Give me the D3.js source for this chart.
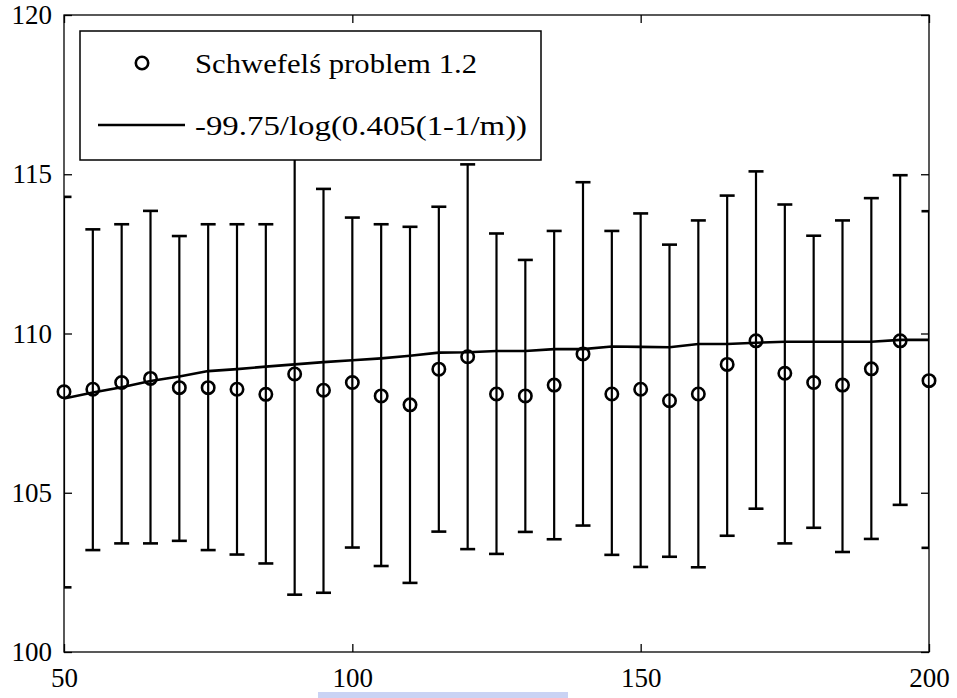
<!DOCTYPE html>
<html>
<head>
<meta charset="utf-8">
<script src="https://cdn.jsdelivr.net/npm/d3@7"></script>
</head>
<body style="margin:0">
<div id="chart"></div>
<script>
// m values (x axis)
const mValues = d3.range(50, 201, 5);
// mean of the runs
const meanValues = [108.17, 108.25, 108.46, 108.59, 108.30, 108.30, 108.25, 108.09, 108.73, 108.22,
  108.46, 108.04, 107.76, 108.88, 109.27, 108.10, 108.04, 108.38, 109.36, 108.10,
  108.25, 107.89, 108.10, 109.03, 109.77, 108.75, 108.46, 108.38, 108.89, 109.77, 108.52];
const upperValues = [114.29, 113.27, 113.43, 113.85, 113.06, 113.43, 113.43, 113.43, 115.66, 114.54,
  113.64, 113.43, 113.35, 113.98, 115.31, 113.14, 112.31, 113.22, 114.75, 113.22,
  113.77, 112.79, 113.55, 114.33, 115.09, 114.05, 113.07, 113.55, 114.25, 114.97, 113.84];
const lowerValues = [102.03, 103.20, 103.41, 103.41, 103.49, 103.20, 103.06, 102.78, 101.80, 101.86,
  103.28, 102.70, 102.17, 103.78, 103.23, 103.08, 103.77, 103.54, 103.97, 103.05,
  102.67, 102.99, 102.66, 103.65, 104.50, 103.41, 103.90, 103.14, 103.55, 104.62, 103.27];
// fitted curve -99.75/log(0.405(1-1/m))
const fitValues = [107.96, 108.15, 108.31, 108.51, 108.65, 108.82, 108.88, 108.96, 109.03, 109.10,
  109.16, 109.22, 109.30, 109.40, 109.41, 109.45, 109.45, 109.51, 109.51, 109.59,
  109.58, 109.57, 109.67, 109.67, 109.71, 109.74, 109.74, 109.74, 109.74, 109.80, 109.80];
const xTicks = [50, 100, 150, 200];
const yTicks = [100, 105, 110, 115, 120];
const seriesLabels = ['Schwefel\u015B problem 1.2', '-99.75/log(0.405(1-1/m))'];

const width = 957, height = 698;
const plotLeft = 64, plotRight = 929, plotTop = 15, plotBottom = 652;
const serif = 'Liberation Serif';

const xScale = d3.scaleLinear().domain([50, 200]).range([plotLeft, plotRight]);
const yScale = d3.scaleLinear().domain([100, 120]).range([plotBottom, plotTop]);

const svg = d3.select('#chart').append('svg')
  .attr('width', width).attr('height', height)
  .attr('font-family', serif)
  .style('font-family', serif);

svg.append('clipPath').attr('id', 'plot-clip')
  .append('rect')
  .attr('x', plotLeft).attr('y', plotTop)
  .attr('width', plotRight - plotLeft).attr('height', plotBottom - plotTop);

// faint blue artifact under the x axis
svg.append('rect')
  .attr('x', 318).attr('y', 692).attr('width', 250).attr('height', 6)
  .attr('fill', '#b4c0f0').attr('opacity', 0.7);

const data = mValues.map((m, i) => ({
  m: m, mean: meanValues[i], hi: upperValues[i], lo: lowerValues[i], fit: fitValues[i]
}));

const plot = svg.append('g').attr('clip-path', 'url(#plot-clip)');

// error bars
const capHalf = 7.5;
const bars = plot.selectAll('g.err').data(data).join('g').attr('class', 'err');
bars.append('line')
  .attr('x1', d => xScale(d.m)).attr('x2', d => xScale(d.m))
  .attr('y1', d => yScale(d.hi)).attr('y2', d => yScale(d.lo))
  .attr('stroke', '#000').attr('stroke-width', 2.2);
bars.append('line')
  .attr('x1', d => xScale(d.m) - capHalf).attr('x2', d => xScale(d.m) + capHalf)
  .attr('y1', d => yScale(d.hi)).attr('y2', d => yScale(d.hi))
  .attr('stroke', '#000').attr('stroke-width', 2.6);
bars.append('line')
  .attr('x1', d => xScale(d.m) - capHalf).attr('x2', d => xScale(d.m) + capHalf)
  .attr('y1', d => yScale(d.lo)).attr('y2', d => yScale(d.lo))
  .attr('stroke', '#000').attr('stroke-width', 2.6);

// fitted line
plot.append('path')
  .datum(data)
  .attr('fill', 'none')
  .attr('stroke', '#000')
  .attr('stroke-width', 2.6)
  .attr('d', d3.line().x(d => xScale(d.m)).y(d => yScale(d.fit)));

// markers (not clipped)
svg.selectAll('circle.pt').data(data).join('circle')
  .attr('class', 'pt')
  .attr('cx', d => xScale(d.m)).attr('cy', d => yScale(d.mean))
  .attr('r', 6.2)
  .attr('fill', 'none').attr('stroke', '#000').attr('stroke-width', 2.6);

// axes box with ticks on all sides
const tickLen = 8;
svg.append('rect')
  .attr('x', plotLeft).attr('y', plotTop)
  .attr('width', plotRight - plotLeft).attr('height', plotBottom - plotTop)
  .attr('fill', 'none').attr('stroke', '#000').attr('stroke-width', 1.3);

function styleLabels(g) {
  g.attr('font-family', serif).attr('font-size', 27);
  g.selectAll('text')
    .attr('font-family', serif)
    .style('font-family', serif)
    .attr('font-size', 27)
    .attr('fill', '#000');
}

svg.append('g').attr('transform', `translate(0,${plotBottom})`)
  .call(d3.axisBottom(xScale).tickValues(xTicks).tickSizeInner(-tickLen).tickSizeOuter(0).tickPadding(16))
  .call(g => g.select('.domain').remove())
  .call(styleLabels);
svg.append('g').attr('transform', `translate(0,${plotTop})`)
  .call(d3.axisTop(xScale).tickValues(xTicks).tickSizeInner(-tickLen).tickSizeOuter(0).tickFormat(''))
  .call(g => g.select('.domain').remove());
svg.append('g').attr('transform', `translate(${plotLeft},0)`)
  .call(d3.axisLeft(yScale).tickValues(yTicks).tickSizeInner(-tickLen).tickSizeOuter(0).tickPadding(12))
  .call(g => g.select('.domain').remove())
  .call(styleLabels);
svg.append('g').attr('transform', `translate(${plotRight},0)`)
  .call(d3.axisRight(yScale).tickValues(yTicks).tickSizeInner(-tickLen).tickSizeOuter(0).tickFormat(''))
  .call(g => g.select('.domain').remove());
svg.selectAll('.tick line').attr('stroke', '#000').attr('stroke-width', 1.3);

// legend
const legend = svg.append('g').attr('font-family', serif);
legend.append('rect')
  .attr('x', 80).attr('y', 31).attr('width', 461).attr('height', 129)
  .attr('fill', '#fff').attr('stroke', '#000').attr('stroke-width', 1.5);
legend.append('circle')
  .attr('cx', 142).attr('cy', 63).attr('r', 6.2)
  .attr('fill', 'none').attr('stroke', '#000').attr('stroke-width', 2.6);
legend.append('line')
  .attr('x1', 98).attr('x2', 185).attr('y1', 125).attr('y2', 125)
  .attr('stroke', '#000').attr('stroke-width', 2.6);
legend.selectAll('text.lbl').data(seriesLabels).join('text')
  .attr('class', 'lbl')
  .attr('x', 195)
  .attr('y', (d, i) => 73 + i * 62)
  .attr('font-size', 27)
  .attr('font-family', serif)
  .style('font-family', serif)
  .attr('textLength', (d, i) => i === 0 ? 282 : 332)
  .attr('lengthAdjust', 'spacingAndGlyphs')
  .text(d => d);
</script>
</body>
</html>
